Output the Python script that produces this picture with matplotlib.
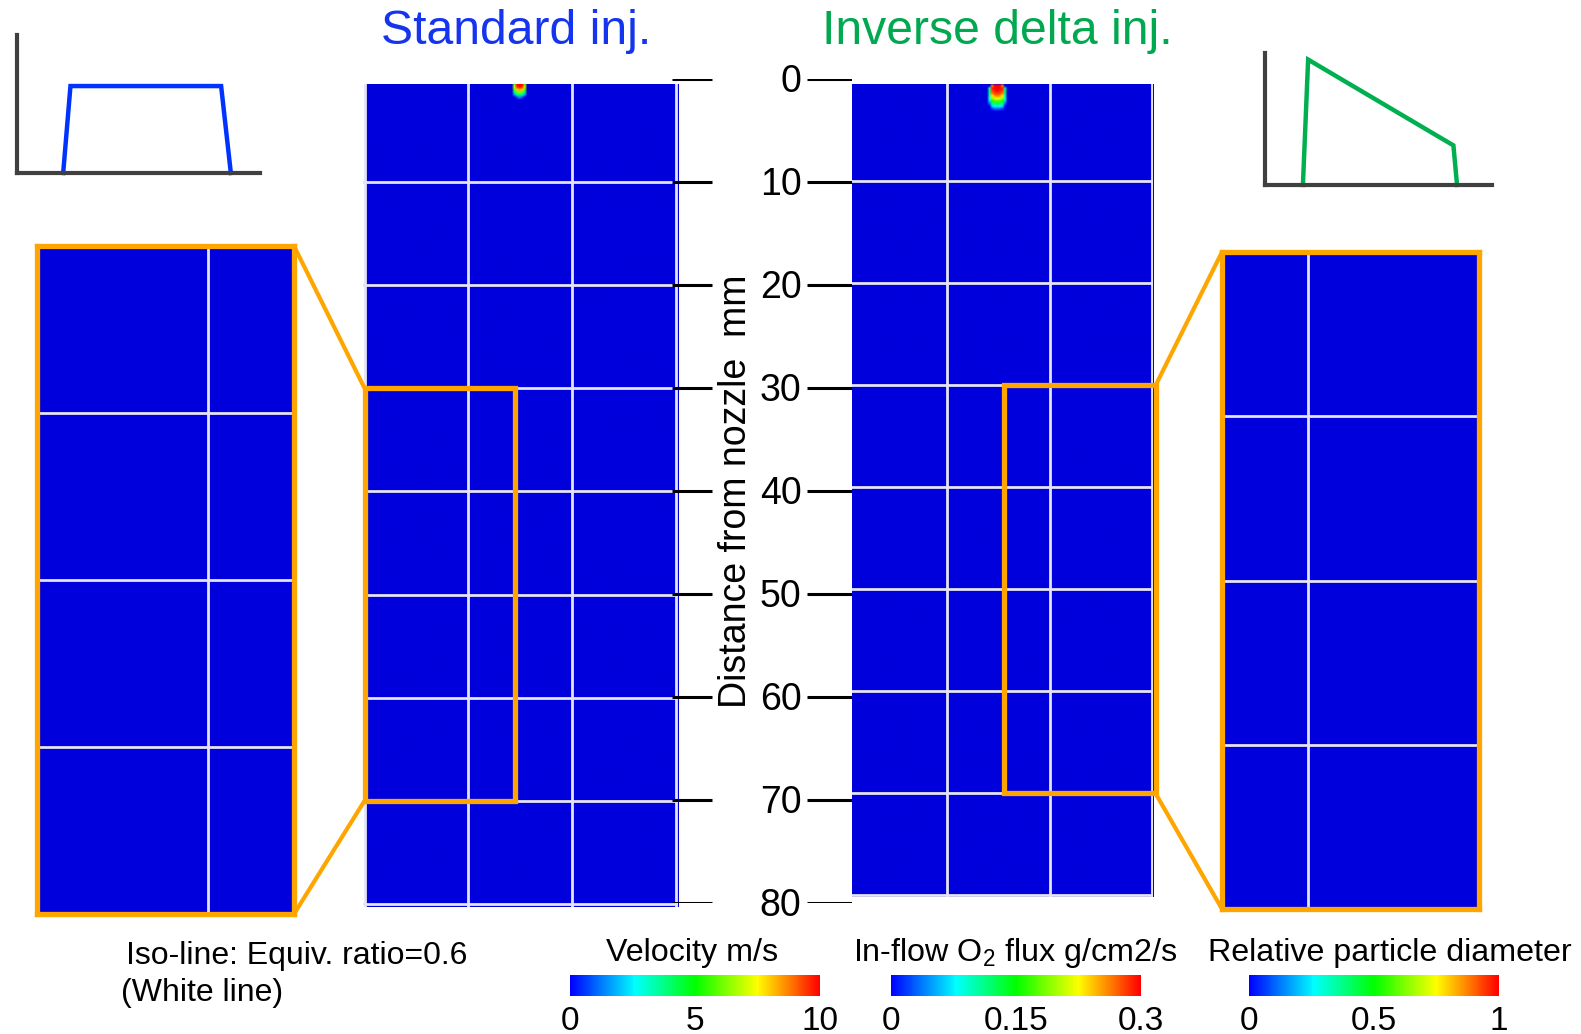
import numpy as np
import matplotlib
matplotlib.use("Agg")
import matplotlib.pyplot as plt
from matplotlib.colors import LinearSegmentedColormap
from matplotlib.patches import Rectangle, ConnectionPatch
import matplotlib as mpl

plt.rcParams["font.family"] = ["Liberation Sans", "DejaVu Sans"]
plt.rcParams["mathtext.default"] = "regular"

# ------------------------------------------------------------------------------
# injection rate shapes (normalised time, normalised rate)
std_t = [0.19, 0.22, 0.84, 0.88]
std_rate = [0.0, 0.63, 0.63, 0.0]
delta_t = [0.167, 0.19, 0.83, 0.846]
delta_rate = [0.0, 0.95, 0.30, 0.0]

# distance axis (mm)
dist_ticks = [0, 10, 20, 30, 40, 50, 60, 70, 80]
grid_x = [0, 10, 20, 30]
grid_y = [10, 20, 30, 40, 50, 60, 70, 80]

# field: uniform value (0) everywhere except a small spot at the nozzle
cell = 0.25  # mm
field_w = 30.5
field_h = 81.0
std_spot = [[0, 6.0, 10.0, 10.0, 10.0, 6.0, 0],
            [0, 7.0, 9.5, 10.0, 9.5, 7.0, 0],
            [0, 6.0, 8.0, 8.5, 8.0, 6.0, 0],
            [0, 4.0, 6.0, 6.5, 6.0, 4.0, 0],
            [0, 2.0, 3.5, 4.0, 3.5, 2.0, 0],
            [0, 0.5, 1.5, 2.0, 1.5, 0.5, 0]]
std_spot_pos = (14.0, 0.5)  # x, y of first cell (mm)
inv_spot = [[0.00, 0.26, 0.30, 0.30, 0.30, 0.26, 0.00],
            [0.10, 0.29, 0.30, 0.30, 0.30, 0.29, 0.10],
            [0.12, 0.28, 0.29, 0.30, 0.29, 0.28, 0.12],
            [0.11, 0.26, 0.28, 0.28, 0.28, 0.26, 0.11],
            [0.10, 0.23, 0.25, 0.26, 0.25, 0.23, 0.10],
            [0.08, 0.19, 0.21, 0.22, 0.21, 0.19, 0.08],
            [0.07, 0.15, 0.17, 0.17, 0.17, 0.15, 0.07],
            [0.05, 0.11, 0.12, 0.13, 0.12, 0.11, 0.05],
            [0.03, 0.07, 0.08, 0.09, 0.08, 0.07, 0.03],
            [0.02, 0.04, 0.05, 0.05, 0.05, 0.04, 0.02],
            [0.00, 0.02, 0.02, 0.03, 0.02, 0.02, 0.00]]
inv_spot_pos = (13.9, 0.5)

# colour bars
cbar_titles = ["Velocity m/s", "In-flow O$_2$ flux g/cm2/s", "Relative particle diameter"]
cbar_max = [10, 0.3, 1]
cbar_ticks = [[0, 5, 10], [0, 0.15, 0.3], [0, 0.5, 1]]
cbar_ticklabels = [["0", "5", "10"], ["0", "0.15", "0.3"], ["0", "0.5", "1"]]
# ------------------------------------------------------------------------------

W, H = 1581, 1034
orange = "#FFA500"
blue_txt = "#1434F0"
green_txt = "#00A850"
grid_col = "#E4E4F4"

bar_cmap = LinearSegmentedColormap.from_list(
    "bar", [(0, "#0000FF"), (0.26, "#00FFFF"), (0.5, "#00FF00"),
            (0.75, "#FFFF00"), (1.0, "#FF0000")])
field_cmap = LinearSegmentedColormap.from_list(
    "field", [(0, "#0000DC"), (0.1, "#0000F0"), (0.26, "#00FFFF"), (0.5, "#00FF00"),
              (0.75, "#FFFF00"), (1.0, "#FF0000")])


def px_axes(fig, x0, y0, x1, y1):
    """Axes from pixel box (top-left origin)."""
    return fig.add_axes([x0 / W, 1 - y1 / H, (x1 - x0) / W, (y1 - y0) / H])


def make_field(spot, pos):
    nx = int(round(field_w / cell))
    ny = int(round(field_h / cell))
    f = np.zeros((ny, nx))
    spot = np.array(spot)
    c0 = int(round(pos[0] / cell))
    r0 = int(round(pos[1] / cell))
    f[r0:r0 + spot.shape[0], c0:c0 + spot.shape[1]] = spot
    return f


def draw_field(ax, f, vmax, xlim, ylim):
    ax.imshow(f, cmap=field_cmap, vmin=0, vmax=vmax, extent=[0, field_w, field_h, 0],
              interpolation="bilinear", aspect="auto")
    for gx in grid_x:
        ax.axvline(gx, color=grid_col, lw=2.0)
    for gy in grid_y:
        ax.axhline(gy, color=grid_col, lw=2.0)
    ax.set_xlim(*xlim)
    ax.set_ylim(*ylim)
    ax.set_xticks([])
    ax.set_yticks([])
    for s in ax.spines.values():
        s.set_visible(False)


fig = plt.figure(figsize=(W / 100, H / 100), dpi=100)

std_field = make_field(std_spot, std_spot_pos)
inv_field = make_field(inv_spot, inv_spot_pos)

# main panels
ax_l = px_axes(fig, 363, 84, 678, 907)
draw_field(ax_l, std_field, 10, (-0.15, 30.2), (80.3, 0.5))
ax_r = px_axes(fig, 852, 84, 1153, 897)
draw_field(ax_r, inv_field, 0.3, (0.8, 30.05), (80.15, 0.45))

# zoomed panels
ax_zl = px_axes(fig, 37, 246, 294, 914)
draw_field(ax_zl, std_field, 10, (0, 15), (70, 30))
ax_zr = px_axes(fig, 1222, 252, 1479, 909)
draw_field(ax_zr, inv_field, 0.3, (15, 30), (70, 30))
for ax in (ax_zl, ax_zr):
    for s in ax.spines.values():
        s.set_visible(True)
        s.set_color(orange)
        s.set_linewidth(3.8)

# orange boxes in main panels
ax_l.add_patch(Rectangle((0, 30), 14.5, 40, fill=False, ec=orange, lw=3.8,
                         clip_on=False, zorder=5))
ax_r.add_patch(Rectangle((15.6, 30), 14.7, 40, fill=False, ec=orange, lw=3.8,
                         clip_on=False, zorder=5))

# connectors
for yy in (30, 70):
    fig.add_artist(ConnectionPatch(xyA=(15, yy), coordsA=ax_zl.transData,
                                   xyB=(0, yy), coordsB=ax_l.transData,
                                   color=orange, lw=3))
    fig.add_artist(ConnectionPatch(xyA=(30.3, yy), coordsA=ax_r.transData,
                                   xyB=(15, yy), coordsB=ax_zr.transData,
                                   color=orange, lw=3))

# central distance axis
ax_c = px_axes(fig, 672, 79, 852, 903)
ax_c.set_xlim(0, 1)
ax_c.set_ylim(80, 0)
ax_c.axis("off")
for d in dist_ticks:
    ax_c.plot([0, 0.222], [d, d], color="black", lw=2.2, solid_capstyle="butt")
    ax_c.plot([0.75, 1.0], [d, d], color="black", lw=2.2, solid_capstyle="butt")
    ax_c.text(0.72, d + 0.3, str(d), ha="right", va="center", fontsize=27)
ax_c.text(0.355, 40, "Distance from nozzle  mm", rotation=90, ha="center",
          va="center", fontsize=27)

# titles
fig.text(516 / W, 1 - 32 / H, "Standard inj.", color=blue_txt, fontsize=34.7,
         ha="center", va="center")
fig.text(997 / W, 1 - 32 / H, "Inverse delta inj.", color=green_txt, fontsize=34.7,
         ha="center", va="center")

# injection rate sketches
ax_s = px_axes(fig, 17, 35, 260, 173)
ax_d = px_axes(fig, 1265, 53, 1492, 185)
for ax, t, r, c in ((ax_s, std_t, std_rate, "#0033FF"), (ax_d, delta_t, delta_rate, "#00B050")):
    ax.plot(t, r, color=c, lw=3.2, clip_on=False, solid_joinstyle="miter")
    ax.set_xlim(0, 1)
    ax.set_ylim(0, 1)
    ax.set_xticks([])
    ax.set_yticks([])
    ax.patch.set_alpha(0)
    for side in ("top", "right"):
        ax.spines[side].set_visible(False)
    for side in ("left", "bottom"):
        ax.spines[side].set_color("#404040")
        ax.spines[side].set_linewidth(3)

# colour bars
cbar_x = [570, 891, 1249]
title_x = [692, 1015, 1390]
for i in range(3):
    cax = px_axes(fig, cbar_x[i], 975, cbar_x[i] + 250, 996)
    sm = mpl.cm.ScalarMappable(norm=mpl.colors.Normalize(0, cbar_max[i]), cmap=bar_cmap)
    cb = fig.colorbar(sm, cax=cax, orientation="horizontal", ticks=cbar_ticks[i])
    cb.set_ticklabels(cbar_ticklabels[i])
    cb.outline.set_visible(False)
    cax.tick_params(length=0, pad=7, labelsize=24)
    fig.text(title_x[i] / W, 1 - 953 / H, cbar_titles[i], fontsize=23.2,
             ha="center", va="center")

fig.text(126 / W, 1 - 956 / H, "Iso-line: Equiv. ratio=0.6", fontsize=23,
         ha="left", va="center")
fig.text(121 / W, 1 - 993 / H, "(White line)", fontsize=23, ha="left", va="center")

fig.savefig("out.png", dpi=100)
